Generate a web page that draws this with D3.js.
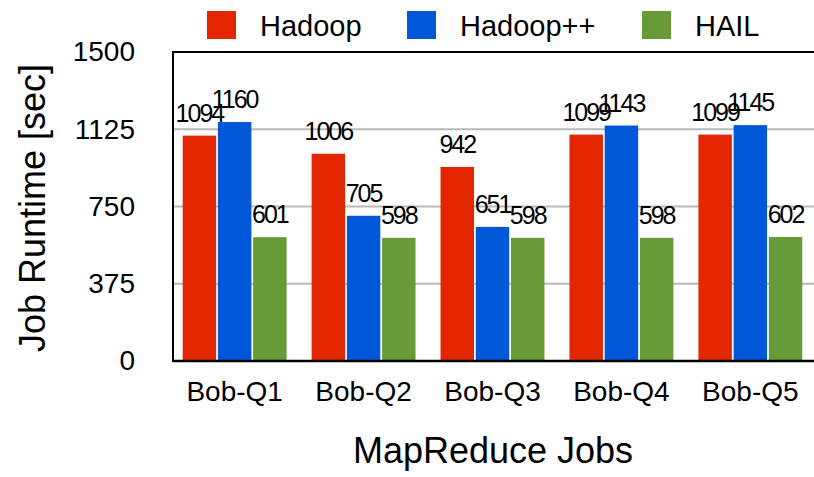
<!DOCTYPE html>
<html>
<head>
<meta charset="utf-8">
<script src="https://cdn.jsdelivr.net/npm/d3@7/dist/d3.min.js"></script>
<style>
  html, body { margin: 0; padding: 0; background: #fff; }
  svg text { font-family: "Liberation Sans", Arial, Helvetica, sans-serif; fill: #000; }
</style>
</head>
<body>
<svg id="chart" width="814" height="477"></svg>
<script>
const categories = ["Bob-Q1", "Bob-Q2", "Bob-Q3", "Bob-Q4", "Bob-Q5"];
const seriesNames = ["Hadoop", "Hadoop++", "HAIL"];
const hadoop = [1094, 1006, 942, 1099, 1099];
const hadoopPP = [1160, 705, 651, 1143, 1145];
const hail = [601, 598, 598, 598, 602];
const yTicks = [0, 375, 750, 1125, 1500];
const colors = ["#e22600", "#0057d8", "#669b37"];

const seriesValues = [hadoop, hadoopPP, hail];

const svg = d3.select("#chart");
const plot = { left: 173, right: 814, top: 52, bottom: 361 };

const y = d3.scaleLinear().domain([0, 1500]).range([plot.bottom, plot.top]);
const x0 = d3.scaleBand().domain(categories).range([182.7, 802.3]).paddingInner(0.194).paddingOuter(0);
const x1 = d3.scaleBand().domain(seriesNames).range([0, x0.bandwidth()]).paddingInner(0.05).paddingOuter(0);

// gridlines
svg.append("g")
  .selectAll("line")
  .data(yTicks.filter(t => t > 0 && t < 1500))
  .join("line")
  .attr("x1", plot.left).attr("x2", plot.right)
  .attr("y1", d => y(d)).attr("y2", d => y(d))
  .attr("stroke", "#b9b9b9").attr("stroke-width", 2);

// bars
const groups = svg.append("g")
  .selectAll("g")
  .data(categories)
  .join("g")
  .attr("transform", d => `translate(${x0(d)},0)`);

groups.selectAll("rect")
  .data((c, i) => seriesNames.map((s, j) => ({ s, v: seriesValues[j][i], j })))
  .join("rect")
  .attr("x", d => x1(d.s))
  .attr("width", x1.bandwidth())
  .attr("y", d => y(d.v))
  .attr("height", d => y(0) - y(d.v))
  .attr("fill", d => colors[d.j]);

groups.selectAll("text")
  .data((c, i) => seriesNames.map((s, j) => ({ s, v: seriesValues[j][i], j })))
  .join("text")
  .attr("x", d => x1(d.s) + x1.bandwidth() / 2)
  .attr("y", d => y(d.v) - 14)
  .attr("text-anchor", "middle")
  .attr("font-size", 25)
  .attr("letter-spacing", "-2px")
  .text(d => d.v);

// frame: top, left, bottom
svg.append("line").attr("x1", plot.left).attr("x2", plot.right).attr("y1", plot.top).attr("y2", plot.top)
  .attr("stroke", "#000").attr("stroke-width", 2);
svg.append("line").attr("x1", plot.left).attr("x2", plot.left).attr("y1", plot.top - 1).attr("y2", plot.bottom + 1)
  .attr("stroke", "#000").attr("stroke-width", 2);
svg.append("line").attr("x1", plot.left).attr("x2", plot.right).attr("y1", plot.bottom).attr("y2", plot.bottom)
  .attr("stroke", "#000").attr("stroke-width", 2.5);

// y axis labels
const yAxis = d3.axisLeft(y).tickValues(yTicks).tickFormat(d3.format("d")).tickSize(0).tickPadding(0);
const yg = svg.append("g").attr("transform", `translate(135,0)`).call(yAxis);
yg.select(".domain").remove();
yg.selectAll("text").attr("font-size", 28).attr("font-family", "Liberation Sans, Arial, sans-serif").attr("fill", "#000");

// x axis labels
const xAxis = d3.axisBottom(x0).tickSize(0).tickPadding(0);
const xg = svg.append("g").attr("transform", `translate(0,381)`).call(xAxis);
xg.select(".domain").remove();
xg.selectAll("text").attr("font-size", 28).attr("font-family", "Liberation Sans, Arial, sans-serif").attr("fill", "#000");

// axis titles
svg.append("text").attr("x", 493).attr("y", 463).attr("text-anchor", "middle")
  .attr("font-size", 36).text("MapReduce Jobs");
svg.append("text").attr("transform", "translate(45,208) rotate(-90)").attr("text-anchor", "middle")
  .attr("font-size", 36).text("Job Runtime [sec]");

// legend
const legendX = [207, 407, 642];
const leg = svg.append("g").selectAll("g").data(seriesNames).join("g")
  .attr("transform", (d, i) => `translate(${legendX[i]},11)`);
leg.append("rect").attr("width", 29).attr("height", 28).attr("fill", (d, i) => colors[i]);
leg.append("text").attr("x", 53).attr("y", 25).attr("font-size", 29).text(d => d);
</script>
</body>
</html>
